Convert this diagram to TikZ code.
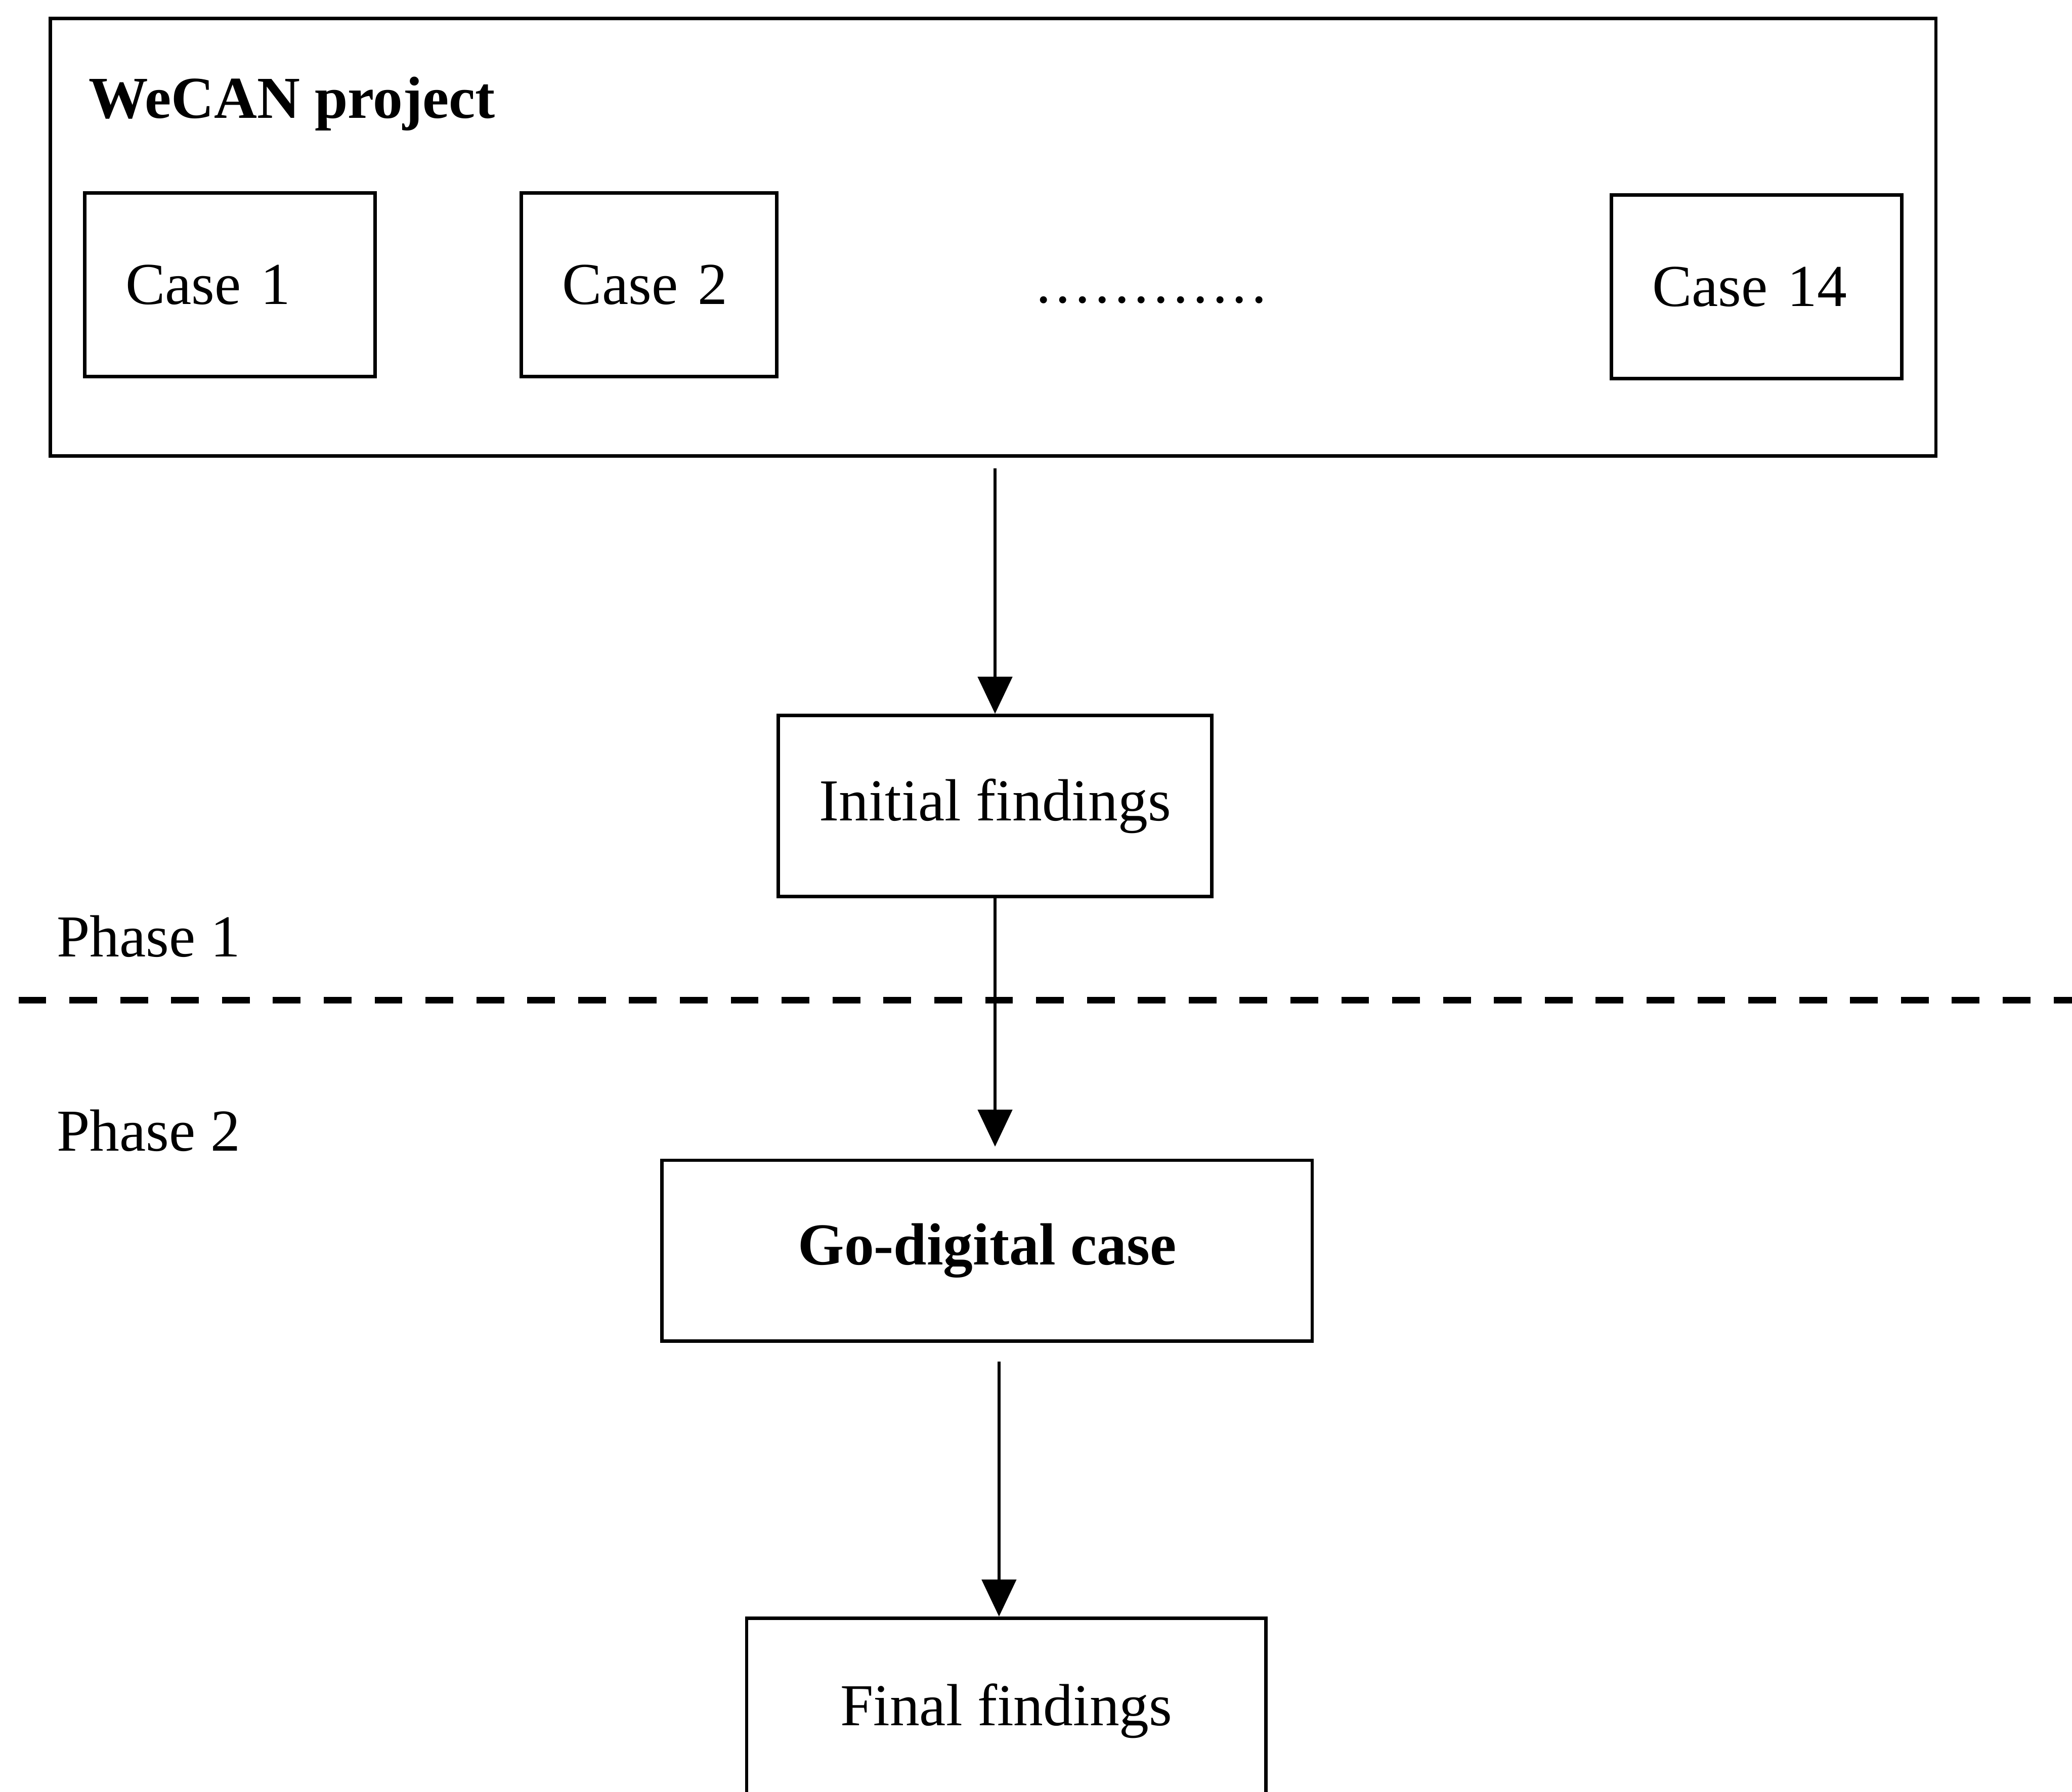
\documentclass[tikz,border=0pt]{standalone}
\usepackage{fontspec}
\setmainfont{Liberation Serif}
\usetikzlibrary{arrows.meta,positioning}

\begin{document}
\begin{tikzpicture}
	[->,>={Triangle[length=0.28cm,width=0.26cm]},line width=0.6pt,
		font=\fontsize{12.8}{15.4}\selectfont,
		base node/.style={rectangle,draw,line width=0.75pt,inner sep=0pt,minimum height=1.37cm},
		case node/.style={base node,minimum height=1.39cm,inner xsep=0.31cm,align=left},
		label node/.style={anchor=base west,inner sep=0pt},
		phase line/.style={-,dash pattern=on 0.21cm off 0.175cm,line width=1.4pt}]

	\useasboundingbox (0,0) rectangle (15.68,-13.56);

	\node[draw,line width=0.75pt,minimum width=14.27cm,minimum height=3.31cm,inner sep=0pt] (wecan) at (7.515,-1.795) {};
	\node[label node,font=\fontsize{12.8}{15.4}\selectfont\bfseries] (title) at (0.66,-0.895) {WeCAN project};

	\node[case node,text width=1.58cm]  (case1) at (1.74,-2.155) {Case 1};
	\node[case node,text width=1.31cm]  [right=1.08cm of case1]  (case2)  {Case 2};
	\node[case node,text width=1.58cm]  [right=6.29cm of case2,yshift=-0.015cm]  (case14)  {Case 14};
	\node[label node]  (dots) at (7.83,-2.29) {\addfontfeature{LetterSpace=8}............};

	\node[base node,minimum width=3.28cm]  (init) at (7.53,-6.10) {Initial findings};
	\node[base node,minimum width=4.92cm,font=\fontsize{12.8}{15.4}\selectfont\bfseries]  [below=1.97cm of init,xshift=-0.06cm]  (godig)  {Go-digital case};
	\node[base node,minimum width=3.93cm,minimum height=1.40cm]  [below=2.07cm of godig,xshift=0.145cm]  (final)  {Final findings};

	\node[label node]  (phase1) at (0.42,-7.24) {Phase 1};
	\node[label node]  (phase2) at (0.42,-8.71) {Phase 2};

	\coordinate (split west) at (0.14,-7.57);
	\coordinate (split east) at (15.70,-7.57);
	\draw[phase line] (split west) -- (split east);

	\path
	(wecan.south -| init.north) edge [shorten <=0.08cm]  (init.north)
	(init.south) edge [shorten >=0.09cm]  (init.south |- godig.north)
	([xshift=0.09cm]godig.south) edge [shorten <=0.14cm]  ([xshift=0.09cm]godig.south |- final.north)
	;

\end{tikzpicture}
\end{document}
